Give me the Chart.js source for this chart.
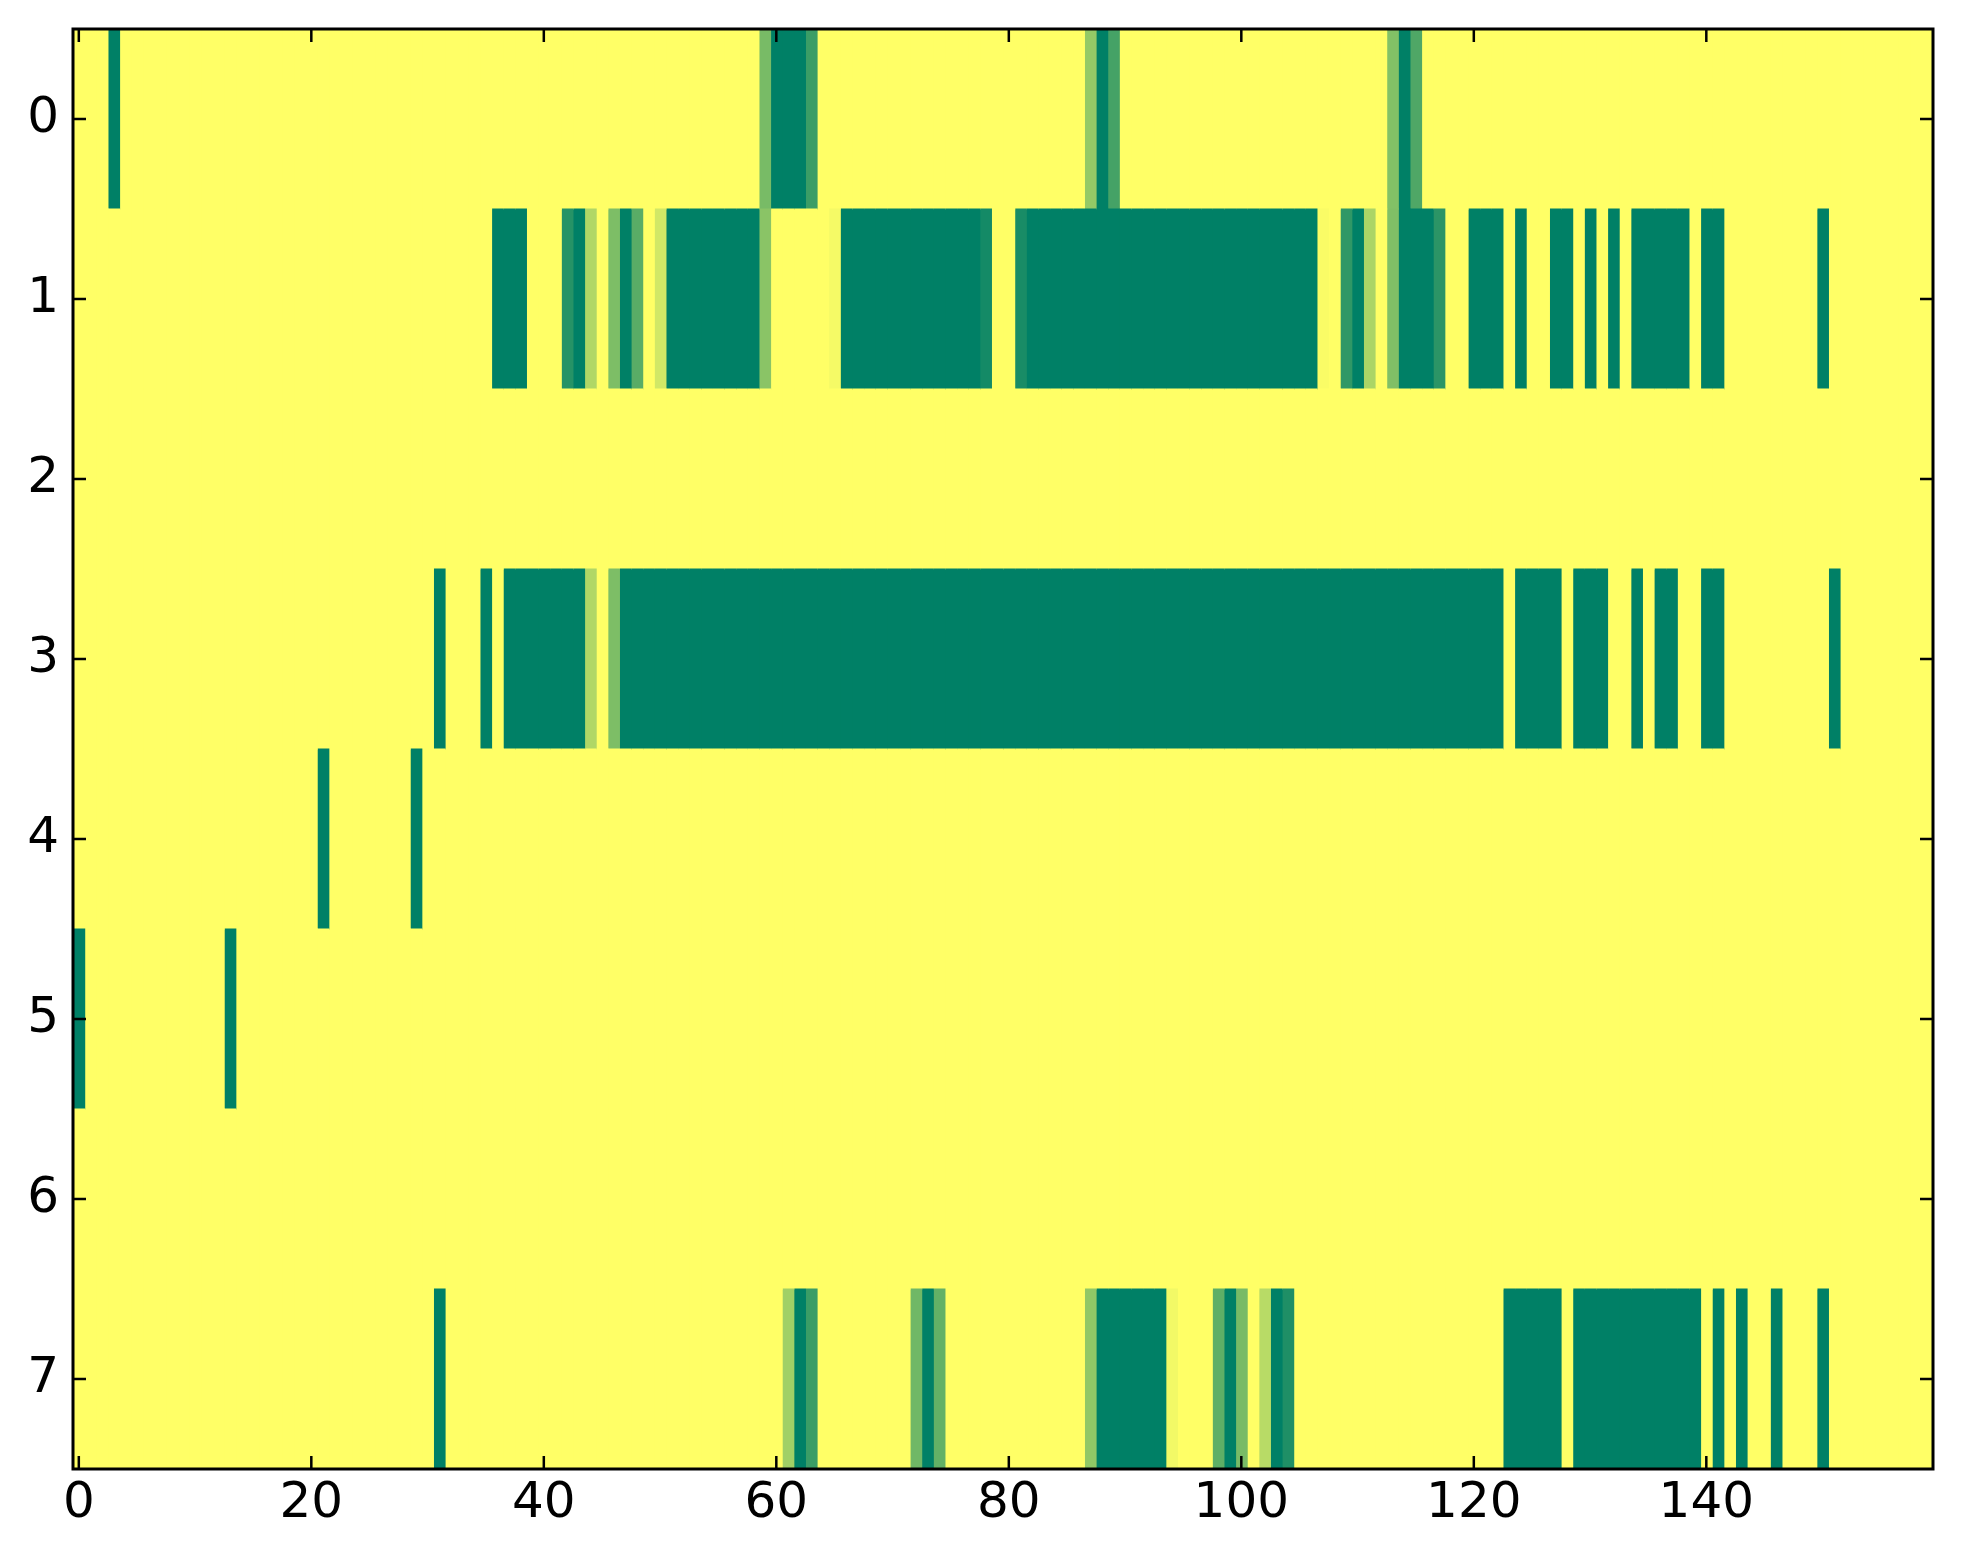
<!DOCTYPE html>
<html>
<head>
<meta charset="utf-8">
<script src="https://cdn.jsdelivr.net/npm/chart.js@4/dist/chart.umd.min.js"></script>
<style>
  html, body { margin: 0; padding: 0; background: #fff; }
  #wrap { width: 1963px; height: 1564px; position: relative; }
</style>
</head>
<body>
<div id="wrap"><canvas id="heat"></canvas></div>
<script>
// heatmap rows, as runs of [fromCol, toCol, value]; cells not listed are 0
const nCols = 160;
const rowLabels = ['0', '1', '2', '3', '4', '5', '6', '7'];
const xTicks = [0, 20, 40, 60, 80, 100, 120, 140];

const row0 = [[3,3,1],[59,59,0.53],[60,62,1],[63,63,0.77],[87,87,0.42],[88,88,1],[89,89,0.73],
  [113,113,0.49],[114,114,1],[115,115,0.69]];
const row1 = [[36,38,1],[42,42,0.85],[43,43,1],[44,44,0.31],[46,46,0.51],[47,47,1],[48,48,0.65],
  [50,50,0.18],[51,58,1],[59,59,0.46],[65,65,0.04],[66,77,1],[78,78,0.92],[81,81,0.9],[82,106,1],
  [107,107,0.02],[109,109,0.81],[110,110,1],[111,111,0.33],[113,113,0.5],[114,116,1],[117,117,0.83],
  [120,122,1],[124,124,1],[127,128,1],[130,130,1],[132,132,1],[134,138,1],[140,141,1],[150,150,1]];
const row2 = [];
const row3 = [[31,31,1],[35,35,1],[37,43,1],[44,44,0.31],[46,46,0.51],[47,122,1],[124,127,1],
  [129,131,1],[134,134,1],[136,137,1],[140,141,1],[151,151,1]];
const row4 = [[21,21,1],[29,29,1]];
const row5 = [[0,0,1],[13,13,1]];
const row6 = [];
const row7 = [[31,31,1],[61,61,0.37],[62,62,1],[63,63,0.77],[72,72,0.56],[73,73,1],[74,74,0.61],
  [87,87,0.43],[88,93,1],[94,94,0.05],[98,98,0.63],[99,99,1],[100,100,0.53],[102,102,0.28],
  [103,103,1],[104,104,0.88],[123,127,1],[129,139,1],[141,141,1],[143,143,1],[146,146,1],[150,150,1]];

const rows = [row0, row1, row2, row3, row4, row5, row6, row7];

// expand runs into a full grid
const grid = rows.map(runs => {
  const cells = new Array(nCols).fill(0);
  runs.forEach(([a, b, v]) => { for (let c = a; c <= b; c++) cells[c] = v; });
  return cells;
});

// matplotlib summer_r
function summerR(v){
  const t = 1 - v;
  return `rgb(${Math.round(255*t)},${Math.round(255*(0.5 + 0.5*t))},102)`;
}

const datasets = [];
for (let c = 0; c < nCols; c++) {
  datasets.push({
    data: rowLabels.map(() => [c - 0.5, c + 0.5]),
    backgroundColor: grid.map(r => summerR(r[c])),
    borderWidth: 0,
    inflateAmount: 0.6,
    grouped: false,
    categoryPercentage: 1,
    barPercentage: 1
  });
}

const FONT = { family: 'DejaVu Sans', size: 50 };

// frame and inward ticks on all four sides, like classic matplotlib
const framePlugin = {
  id: 'frame',
  afterDraw(chart){
    const { ctx, chartArea: a, scales } = chart;
    const len = 13;
    ctx.save();
    ctx.strokeStyle = '#000';
    ctx.lineWidth = 2.5;
    ctx.beginPath();
    xTicks.forEach(v => {
      const px = scales.x.getPixelForValue(v);
      ctx.moveTo(px, a.bottom); ctx.lineTo(px, a.bottom - len);
      ctx.moveTo(px, a.top); ctx.lineTo(px, a.top + len);
    });
    rowLabels.forEach((_, i) => {
      const py = scales.y.getPixelForValue(i);
      ctx.moveTo(a.left, py); ctx.lineTo(a.left + len, py);
      ctx.moveTo(a.right, py); ctx.lineTo(a.right - len, py);
    });
    ctx.stroke();
    ctx.lineWidth = 3;
    ctx.strokeRect(a.left, a.top, a.right - a.left, a.bottom - a.top);
    ctx.restore();
  }
};

Chart.defaults.font.family = FONT.family;
Chart.defaults.color = '#000';

new Chart(document.getElementById('heat').getContext('2d'), {
  type: 'bar',
  data: { labels: rowLabels, datasets },
  options: {
    indexAxis: 'y',
    responsive: true,
    maintainAspectRatio: false,
    animation: false,
    devicePixelRatio: 1,
    layout: { padding: { top: 29, right: 30, left: 0, bottom: 0 } },
    plugins: { legend: { display: false }, tooltip: { enabled: false } },
    scales: {
      x: {
        type: 'linear',
        min: -0.5,
        max: nCols - 0.5,
        grid: { display: false, drawTicks: false },
        border: { display: false },
        ticks: { font: FONT, padding: 5, maxRotation: 0, autoSkip: false },
        afterBuildTicks(scale){ scale.ticks = xTicks.map(v => ({ value: v })); },
        afterFit(scale){ scale.height = 95; scale.paddingLeft = 0; scale.paddingRight = 0; }
      },
      y: {
        type: 'category',
        grid: { display: false, drawTicks: false },
        border: { display: false },
        ticks: { font: FONT, padding: 14 },
        afterFit(scale){ scale.width = 73; scale.paddingTop = 0; scale.paddingBottom = 0; }
      }
    }
  },
  plugins: [framePlugin]
});
</script>
</body>
</html>
